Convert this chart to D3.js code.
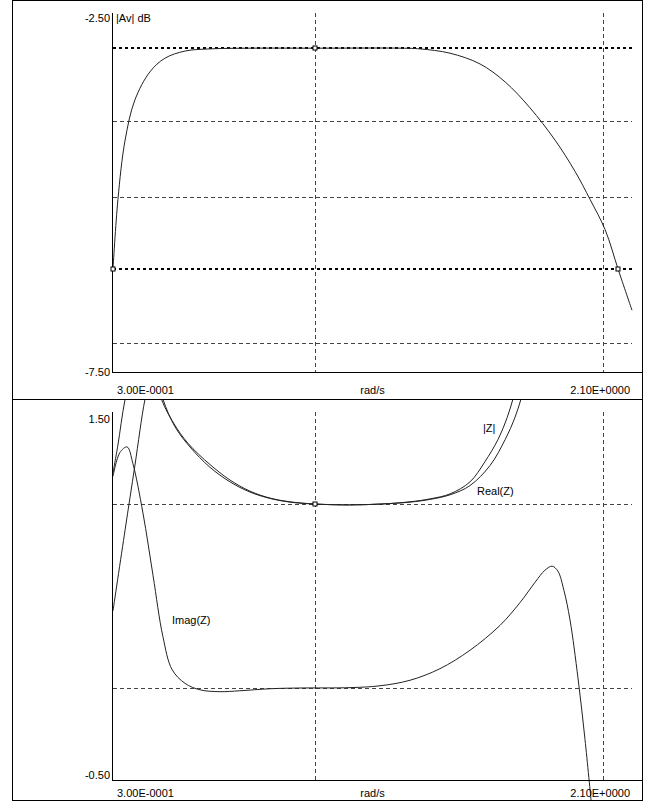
<!DOCTYPE html>
<html lang="en">
<head>
	<meta charset="UTF-8">
	<title>Gain and Impedance</title>
	<script src="https://d3js.org/d3.v7.min.js"></script>
	<style>
		body { margin: 0; background: #fff; }
		svg { display: block; }
		text {
			font-family: "Liberation Sans", Arial, sans-serif;
			font-size: 11px;
			fill: #000;
		}
	</style>
</head>
<body>
<div id="chart"></div>
<script>
	// x axis (rad/s), both panels
	const xDomain = [0.3, 2.1];
	const xGrid = [1.0, 2.0];
	const xTickLabels = ["3.00E-0001", "2.10E+0000"];
	const xTitle = "rad/s";

	// top panel: |Av| dB
	const gainDomain = [-7.5, -2.5];
	const gainLabels = ["-2.50", "-7.50"];
	const gainTitle = "|Av| dB";
	const gainGrid = [-4.0, -5.06, -7.1];
	const gainRefs = [-2.99, -6.07];           // bold dotted lines (max and -3 dB)
	const gainMarks = [[1.0, -2.99], [0.3, -6.07], [2.052, -6.07]];
	const gain = [
		[0.300, -6.07], [0.317, -5.10], [0.342, -4.27], [0.376, -3.71], [0.428, -3.32],
		[0.480, -3.13], [0.550, -3.03], [0.636, -3.00], [0.775, -2.99], [1.0, -2.99],
		[1.30, -2.99], [1.365, -3.00], [1.469, -3.06], [1.573, -3.21], [1.660, -3.46],
		[1.746, -3.82], [1.833, -4.27], [1.903, -4.71], [1.955, -5.10], [2.007, -5.52],
		[2.052, -6.07], [2.100, -6.64]
	];

	// bottom panel: impedance
	const zDomain = [-0.5, 1.5];
	const zLabels = ["1.50", "-0.50"];
	const zGrid = [1.0, 0.0];
	const zMarks = [[1.0, 1.0]];
	const absZ = [
		[0.300, 1.17], [0.317, 1.32], [0.342, 1.57], [0.40, 1.95], [0.468, 1.57],
		[0.51, 1.44], [0.56, 1.33], [0.636, 1.215], [0.706, 1.13], [0.775, 1.07],
		[0.845, 1.032], [0.914, 1.012], [1.0, 1.0], [1.12, 0.995], [1.23, 1.0],
		[1.33, 1.012], [1.40, 1.028], [1.469, 1.055], [1.538, 1.12], [1.590, 1.23],
		[1.635, 1.35], [1.667, 1.47], [1.687, 1.57], [1.70, 1.65]
	];
	const realZ = [
		[0.300, 0.42], [0.342, 0.86], [0.376, 1.21], [0.411, 1.57], [0.44, 1.76],
		[0.473, 1.57], [0.515, 1.42], [0.567, 1.31], [0.636, 1.20], [0.706, 1.12],
		[0.775, 1.065], [0.845, 1.03], [0.914, 1.01], [1.0, 1.0], [1.12, 0.995],
		[1.23, 1.0], [1.33, 1.01], [1.40, 1.025], [1.469, 1.05], [1.538, 1.10],
		[1.608, 1.21], [1.660, 1.35], [1.694, 1.47], [1.715, 1.57], [1.73, 1.65]
	];
	const imagZ = [
		[0.300, 1.15], [0.324, 1.28], [0.349, 1.31], [0.369, 1.22], [0.404, 0.95],
		[0.439, 0.61], [0.473, 0.28], [0.505, 0.10], [0.550, 0.025], [0.602, -0.01],
		[0.671, -0.02], [0.740, -0.015], [0.845, -0.004], [0.949, 0], [1.122, 0.002],
		[1.226, 0.012], [1.330, 0.042], [1.434, 0.105], [1.538, 0.205], [1.642, 0.34],
		[1.712, 0.465], [1.764, 0.575], [1.798, 0.64], [1.823, 0.662], [1.843, 0.635],
		[1.864, 0.53], [1.885, 0.37], [1.913, 0.05], [1.937, -0.28], [1.958, -0.61]
	];

	const W = 656, H = 803;
	const frame = { left: 12, right: 642, top: 0, bottom: 800, split: 400 };

	const svg = d3.create("svg").attr("width", W).attr("height", H);
	svg.append("rect").attr("width", W).attr("height", H).attr("fill", "#fff");

	const x = d3.scaleLinear().domain(xDomain).range([113, 632]);
	const yTop = d3.scaleLinear().domain(gainDomain).range([372, 13]);
	const yBot = d3.scaleLinear().domain(zDomain).range([780, 412]);

	const defs = svg.append("defs");
	defs.append("clipPath").attr("id", "clipTop").append("rect")
		.attr("x", frame.left).attr("y", frame.top)
		.attr("width", frame.right - frame.left).attr("height", frame.split - frame.top);
	defs.append("clipPath").attr("id", "clipBot").append("rect")
		.attr("x", frame.left).attr("y", frame.split)
		.attr("width", frame.right - frame.left).attr("height", frame.bottom - frame.split);

	// off: baseline offsets for [top label, bottom label, x labels]
	function panel(y, clipId, grid, refs, marks, series, yLabels, title, off) {
		const g = svg.append("g");
		const [y0, y1] = y.range();

		// thin dashed grid
		grid.forEach(v => {
			g.append("line")
				.attr("x1", x.range()[0]).attr("x2", x.range()[1])
				.attr("y1", Math.round(y(v)) + 0.5).attr("y2", Math.round(y(v)) + 0.5)
				.attr("stroke", "#444").attr("stroke-width", 1)
				.attr("stroke-dasharray", "4,3");
		});
		xGrid.forEach(v => {
			g.append("line")
				.attr("x1", Math.round(x(v)) + 0.5).attr("x2", Math.round(x(v)) + 0.5)
				.attr("y1", y1).attr("y2", y0)
				.attr("stroke", "#444").attr("stroke-width", 1)
				.attr("stroke-dasharray", "4,3");
		});

		// bold dotted reference lines
		refs.forEach(v => {
			g.append("line")
				.attr("x1", x.range()[0]).attr("x2", x.range()[1])
				.attr("y1", Math.round(y(v))).attr("y2", Math.round(y(v)))
				.attr("stroke", "#000").attr("stroke-width", 2)
				.attr("stroke-dasharray", "3,3");
		});

		// curves
		const line = d3.line().x(d => x(d[0])).y(d => y(d[1])).curve(d3.curveCatmullRom.alpha(0.5));
		const cg = g.append("g").attr("clip-path", `url(#${clipId})`);
		series.forEach(s => {
			cg.append("path")
				.attr("d", line(s))
				.attr("fill", "none")
				.attr("stroke", "#222")
				.attr("stroke-width", 1);
		});

		// axes: left and bottom lines
		g.append("line")
			.attr("x1", 112.5).attr("x2", 112.5)
			.attr("y1", y1).attr("y2", y0 + 0.5)
			.attr("stroke", "#000");
		g.append("line")
			.attr("x1", 112).attr("x2", frame.right)
			.attr("y1", y0 + 0.5).attr("y2", y0 + 0.5)
			.attr("stroke", "#000");

		// markers
		marks.forEach(m => {
			g.append("rect")
				.attr("x", Math.round(x(m[0])) - 2).attr("y", Math.round(y(m[1])) - 2)
				.attr("width", 4).attr("height", 4)
				.attr("fill", "#fff").attr("stroke", "#000").attr("stroke-width", 1);
		});

		// labels
		g.append("text").attr("x", 110).attr("y", y1 + off[0])
			.attr("text-anchor", "end").text(yLabels[0]);
		g.append("text").attr("x", 110).attr("y", y0 + off[1])
			.attr("text-anchor", "end").text(yLabels[1]);
		if (title) {
			g.append("text").attr("x", 116).attr("y", y1 + off[0]).text(title);
		}
		g.append("text").attr("x", 117).attr("y", y0 + off[2]).text(xTickLabels[0]);
		g.append("text").attr("x", (x.range()[0] + x.range()[1]) / 2).attr("y", y0 + off[2])
			.attr("text-anchor", "middle").text(xTitle);
		g.append("text").attr("x", 630).attr("y", y0 + off[2])
			.attr("text-anchor", "end").text(xTickLabels[1]);
		return g;
	}

	panel(yTop, "clipTop", gainGrid, gainRefs, gainMarks, [gain], gainLabels, gainTitle, [9, 4, 22]);
	const bot = panel(yBot, "clipBot", zGrid, [], zMarks, [absZ, realZ, imagZ], zLabels, null, [11, -1, 17]);

	// series labels in the bottom panel
	bot.append("text").attr("x", 483).attr("y", 432).text("|Z|");
	bot.append("text").attr("x", 477).attr("y", 495).text("Real(Z)");
	bot.append("text").attr("x", 172).attr("y", 624).text("Imag(Z)");

	// outer frame and panel divider
	svg.append("rect")
		.attr("x", frame.left + 0.5).attr("y", frame.top + 0.5)
		.attr("width", frame.right - frame.left).attr("height", frame.bottom - frame.top)
		.attr("fill", "none").attr("stroke", "#000");
	svg.append("line")
		.attr("x1", frame.left).attr("x2", frame.right)
		.attr("y1", frame.split - 0.5).attr("y2", frame.split - 0.5)
		.attr("stroke", "#000");

	document.getElementById("chart").append(svg.node());
</script>
</body>
</html>
